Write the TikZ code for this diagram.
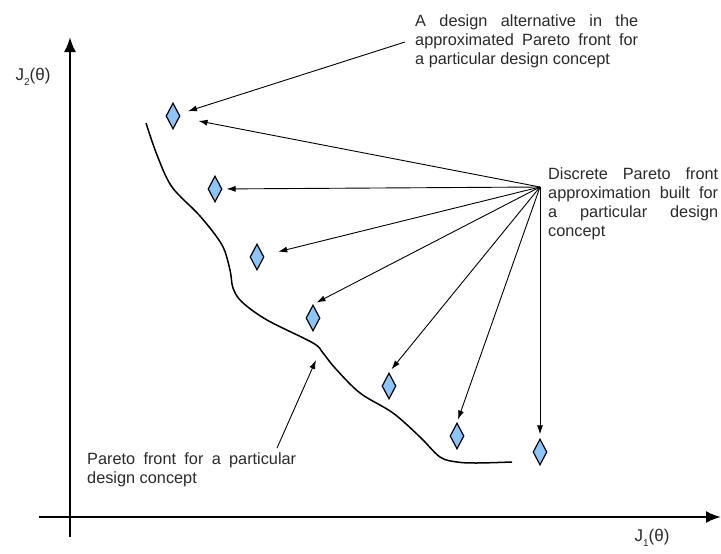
\documentclass[tikz,border=0pt]{standalone}
\usepackage{fontspec}
\setmainfont{Liberation Sans}
\usetikzlibrary{arrows.meta,shapes.geometric}
\definecolor{dfill}{HTML}{8EC5F8}
\definecolor{txt}{HTML}{2A2A2A}
\newcommand{\lowsub}[1]{\raisebox{-4.5pt}{\fontsize{10pt}{10pt}\selectfont #1}}
\tikzset{
  dia/.style={diamond, draw=black, line width=1.2pt, fill=dfill, inner sep=0pt,
    minimum width=14pt, minimum height=26pt},
  axis/.style={line width=2.4pt, -{Latex[length=15pt,width=12pt]}},
  ptr/.style={line width=0.9pt, -{Latex[length=9pt,width=6pt]}},
  lbl/.style={text=txt, font=\fontsize{16.3pt}{19pt}\selectfont, inner sep=0pt, anchor=north west},
  ax/.style={text=txt, font=\fontsize{17pt}{19pt}\selectfont, inner sep=0pt}
}
\begin{document}
\begin{tikzpicture}[x=1pt,y=-1pt]
\useasboundingbox (0,0) rectangle (721,554);
% axes
\coordinate (ybot) at (70,537);
\coordinate (ytop) at (70,37);
\coordinate (xl) at (39,517);
\coordinate (xr) at (721,517);
\draw[axis] (ybot) -- (ytop);
\draw[axis] (xl) -- (xr);
\node[ax] (j2) at (33,77) {J\lowsub{2}(θ)};
\node[ax] (j1) at (652,538) {J\lowsub{1}(θ)};
% Pareto front curve
\draw[line width=1.5pt] plot[smooth, tension=0.55] coordinates {
 (146,123) (157,155) (172,187) (200,216) (222,245) (230,270) (233,288)
 (242,302) (267,320) (313,343) (323,353) (335,368) (360,393)
 (393,413) (420,437) (440,457) (457,462) (477,463) (512,462)};
% diamonds
\node[dia] (d1) at (173,116) {};
\node[dia] (d2) at (215,189) {};
\node[dia] (d3) at (257,257) {};
\node[dia] (d4) at (313,318) {};
\node[dia] (d5) at (389,386) {};
\node[dia] (d6) at (457,436) {};
\node[dia] (d7) at (540,452) {};
% texts
\node[lbl] (t1) at (415,14) {\parbox{223pt}{A design alternative in the\linebreak approximated Pareto front for\linebreak a particular design concept}};
\node[lbl] (t2) at (548,167) {\parbox{170pt}{Discrete Pareto front\linebreak approximation built for\linebreak a particular design\linebreak concept}};
\node[lbl] (t3) at (87,452) {\parbox{209pt}{Pareto front for a particular\linebreak design concept}};
% connectors
\coordinate (src) at (540,187);
\coordinate (t1tail) at (405,42);
\coordinate (t3tail) at (277,448);
\coordinate (fronttip) at (316,360);
\draw[ptr, shorten >=9pt] (t1tail) -- (d1);
\draw[ptr, shorten >=19pt] (src) -- (d1);
\draw[ptr, shorten >=4pt] (src) -- (d2);
\draw[ptr, shorten >=15pt] (src) -- (d3);
\draw[ptr, shorten >=4pt] (src) -- (d4.north);
\draw[ptr, shorten >=4pt] (src) -- (d5.north);
\draw[ptr, shorten >=3pt] (src) -- (d6.north);
\draw[ptr, shorten >=4pt] (src) -- (d7.north);
\draw[ptr] (t3tail) -- (fronttip);
\end{tikzpicture}
\end{document}
